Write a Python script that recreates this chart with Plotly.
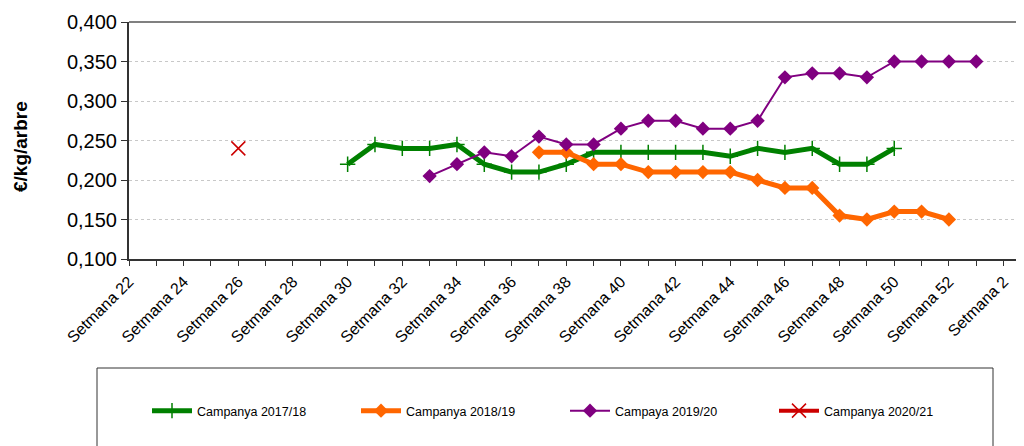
import plotly.graph_objects as go

weeks = [f"Setmana {w}" for w in range(22, 53)] + ["Setmana 1", "Setmana 2"]

# values by week
c1718_weeks = list(range(30, 51))
c1718_vals = [0.220, 0.245, 0.240, 0.240, 0.245, 0.220, 0.210, 0.210, 0.220, 0.235,
              0.235, 0.235, 0.235, 0.235, 0.230, 0.240, 0.235, 0.240, 0.220, 0.220, 0.240]

c1819_weeks = list(range(37, 53))
c1819_vals = [0.235, 0.235, 0.220, 0.220, 0.210, 0.210, 0.210, 0.210, 0.200, 0.190,
              0.190, 0.155, 0.150, 0.160, 0.160, 0.150]

c1920_weeks = list(range(33, 53)) + [1]
c1920_vals = [0.205, 0.220, 0.235, 0.230, 0.255, 0.245, 0.245, 0.265, 0.275, 0.275,
              0.265, 0.265, 0.275, 0.330, 0.335, 0.335, 0.330, 0.350, 0.350, 0.350, 0.350]

c2021_weeks = [26]
c2021_vals = [0.240]

tick_labels = [w if i % 2 == 0 else "" for i, w in enumerate(weeks)]


def cat(ws):
    return [f"Setmana {w}" for w in ws]


FONT = "Arial, Liberation Sans, sans-serif"

fig = go.Figure()
fig.add_trace(go.Scatter(
    x=cat(c1718_weeks), y=c1718_vals, name="Campanya 2017/18", mode="lines+markers",
    line=dict(color="#008000", width=5),
    marker=dict(symbol="cross-thin", size=11, color="#008000",
                line=dict(color="#008000", width=1.5))))
fig.add_trace(go.Scatter(
    x=cat(c1819_weeks), y=c1819_vals, name="Campanya 2018/19", mode="lines+markers",
    line=dict(color="#FF6600", width=5),
    marker=dict(symbol="diamond", size=11, color="#FF6600")))
fig.add_trace(go.Scatter(
    x=cat(c1920_weeks), y=c1920_vals, name="Campaya 2019/20", mode="lines+markers",
    line=dict(color="#800080", width=2),
    marker=dict(symbol="diamond", size=11, color="#800080")))
fig.add_trace(go.Scatter(
    x=cat(c2021_weeks), y=c2021_vals, name="Campanya 2020/21", mode="lines+markers",
    line=dict(color="#CC0000", width=4),
    marker=dict(symbol="x-thin", size=14, color="#CC0000",
                line=dict(color="#CC0000", width=1.5))))

# screen geometry (page body has an 8px margin)
OFF = 8
L, T, B, R = 129, 22, 259, 1024
W, H = 1024 - OFF, 446 - OFF
pw = R - L
ph = B - T


def px(x):
    return (x - L) / pw


def py(y):
    return (B - y) / ph


fig.update_layout(
    width=W, height=H,
    margin=dict(l=L - OFF, r=0, t=T - OFF, b=H - (B - OFF), pad=0, autoexpand=False),
    paper_bgcolor="white", plot_bgcolor="white",
    font=dict(family=FONT, color="black"),
    separators=",.",
    showlegend=True,
    legend=dict(orientation="h", x=px(147), y=py(411), xanchor="left", yanchor="middle",
                font=dict(size=12.5, family=FONT), entrywidth=154, entrywidthmode="pixels",
                bgcolor="rgba(0,0,0,0)", itemwidth=40),
    xaxis=dict(type="category", categoryorder="array", categoryarray=weeks,
               range=[0, pw / 27.33], tickmode="array", tickvals=weeks, ticktext=tick_labels,
               tickangle=-45, tickfont=dict(size=16, family=FONT), automargin=False,
               ticks="outside", ticklen=5, tickcolor="#333333", showgrid=False,
               showline=True, linecolor="#333333", linewidth=2, zeroline=False),
    yaxis=dict(range=[0.1, 0.4], dtick=0.05, tickformat=".3f", automargin=False,
               tickfont=dict(size=20, family=FONT),
               ticks="outside", ticklen=6, tickcolor="#333333",
               showgrid=True, gridcolor="#C8C8C8", griddash="dot", gridwidth=1,
               showline=True, linecolor="#333333", linewidth=2, zeroline=False),
    shapes=[
        dict(type="line", xref="paper", yref="paper", x0=0, x1=1, y0=1, y1=1,
             line=dict(color="#808080", width=2)),
        dict(type="rect", xref="paper", yref="paper", x0=px(97), x1=px(993),
             y0=py(368), y1=py(470), line=dict(color="#333333", width=1)),
    ],
    annotations=[
        dict(text="<b>€/kg/arbre</b>", xref="paper", yref="paper", x=px(20), y=py(147),
             textangle=-90, showarrow=False, font=dict(size=19, family=FONT),
             xanchor="center", yanchor="middle"),
    ],
)

fig.write_html("out.html")
